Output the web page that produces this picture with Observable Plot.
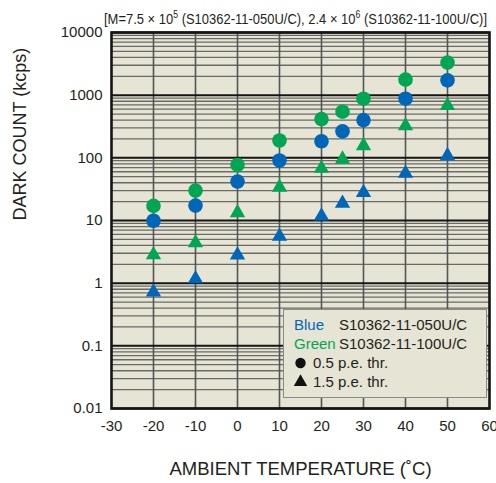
<!DOCTYPE html>
<html>
<head>
<meta charset="utf-8">
<script src="https://cdn.jsdelivr.net/npm/d3@7"></script>
<script src="https://cdn.jsdelivr.net/npm/@observablehq/plot@0.6"></script>
<style>
  html, body { margin: 0; padding: 0; background: #fff; }
  #chart { width: 496px; height: 483px; }
</style>
</head>
<body>
<div id="chart"></div>
<script>
// ---- data ----
const temps = [-20, -10, 0, 10, 20, 25, 30, 40, 50];
const blue050_05 = [9.9, 17.3, 41.8, 90.6, 184, 264, 400, 879, 1725];   // S10362-11-050U/C, 0.5 p.e.
const blue050_15 = [0.72, 1.17, 2.8, 5.6, 11.8, 18.8, 27.8, 56.7, 108]; // S10362-11-050U/C, 1.5 p.e.
const green100_05 = [17.1, 30, 77, 189, 415, 545, 879, 1770, 3311];     // S10362-11-100U/C, 0.5 p.e.
const green100_15 = [2.84, 4.4, 13.3, 34, 68, 95, 156, 325, 682];       // S10362-11-100U/C, 1.5 p.e.

const xTicks = [-30, -20, -10, 0, 10, 20, 30, 40, 50, 60];
const yTicks = [0.01, 0.1, 1, 10, 100, 1000, 10000];
const minorMult = [2, 3, 4, 5, 6, 7, 8, 9];

const title = ["[M=7.5 × 10", "5", " (S10362-11-050U/C), 2.4 × 10", "6", " (S10362-11-100U/C)]"];
const xLabel = "AMBIENT TEMPERATURE (˚C)";
const yLabel = "DARK COUNT (kcps)";
const legendRows = [
  {key: "Blue", name: "S10362-11-050U/C"},
  {key: "Green", name: "S10362-11-100U/C"}
];
const legendSymbols = [
  {symbol: "circle", label: "0.5 p.e. thr."},
  {symbol: "triangle", label: "1.5 p.e. thr."}
];

// ---- styles ----
const BLUE = "#0066b8";
const GREEN = "#00a651";
const BG = "#e6e4d4";
const INK = "#231f20";
const FONT = "'Liberation Sans', Arial, Helvetica, sans-serif";

const minorTicks = yTicks.slice(0, -1).flatMap(d => minorMult.map(m => +(d * m).toPrecision(3)));
const innerX = xTicks.slice(1, -1);

const chart = Plot.plot({
  width: 496,
  height: 483,
  marginLeft: 111,
  marginRight: 7,
  marginTop: 32,
  marginBottom: 75,
  style: {background: "#fff", fontFamily: FONT, fontSize: "15px", color: INK, overflow: "hidden"},
  x: {domain: [-30, 60], ticks: xTicks, tickFormat: d => String(d), tickSize: 0, tickPadding: 12, label: null},
  y: {type: "log", domain: [0.01, 10000], ticks: yTicks, tickFormat: d => String(d), tickSize: 0, tickPadding: 9, label: null},
  marks: [
    Plot.frame({fill: BG}),
    Plot.ruleY(minorTicks, {stroke: "#6a6a66", strokeWidth: 1.3}),
    Plot.ruleX(innerX, {stroke: "#555", strokeWidth: 1.6}),
    Plot.ruleY(yTicks, {stroke: "#151515", strokeWidth: 2}),
    Plot.frame({stroke: "#151515", strokeWidth: 2.6}),
    Plot.dot(temps, {x: temps, y: blue050_15, symbol: "triangle", r: 5.7, fill: BLUE}),
    Plot.dot(temps, {x: temps, y: green100_15, symbol: "triangle", r: 5.7, fill: GREEN}),
    Plot.dot(temps, {x: temps, y: green100_05, symbol: "circle", r: 7.3, fill: GREEN}),
    Plot.dot(temps, {x: temps, y: blue050_05, symbol: "circle", r: 7.3, fill: BLUE}),
    Plot.text([xLabel], {frameAnchor: "bottom", dy: 66, fontSize: 18.5, fill: INK}),
    Plot.text([yLabel], {frameAnchor: "left", dx: -91, rotate: -90, fontSize: 18, fill: INK})
  ]
});

document.getElementById("chart").appendChild(chart);

// ---- title with superscripts ----
const svg = d3.select(chart);
const t = svg.append("text")
  .attr("x", 104).attr("y", 24)
  .attr("text-anchor", "start")
  .attr("fill", INK)
  .attr("font-family", "'Liberation Sans Narrow', 'Liberation Sans', Arial, sans-serif")
  .attr("font-size", 15)
  .attr("textLength", 383)
  .attr("lengthAdjust", "spacingAndGlyphs");
t.append("tspan").text(title[0]);
t.append("tspan").attr("dy", -6).attr("font-size", 10).text(title[1]);
t.append("tspan").attr("dy", 6).text(title[2]);
t.append("tspan").attr("dy", -6).attr("font-size", 10).text(title[3]);
t.append("tspan").attr("dy", 6).text(title[4]);

// ---- legend box ----
const lg = svg.append("g").attr("font-family", FONT).attr("font-size", 15).attr("fill", INK).attr("text-anchor", "start");
lg.append("rect").attr("x", 283.5).attr("y", 309.5).attr("width", 203).attr("height", 88)
  .attr("fill", BG).attr("stroke", "#8a8a86").attr("stroke-width", 1);
const keyColors = [BLUE, GREEN];
legendRows.forEach((r, i) => {
  lg.append("text").attr("x", 294).attr("y", 330 + i * 19).attr("fill", keyColors[i]).text(r.key);
  lg.append("text").attr("x", 339).attr("y", 330 + i * 19).text(r.name);
});
legendSymbols.forEach((s, i) => {
  const cy = 363 + i * 19;
  const sym = s.symbol === "circle" ? d3.symbolCircle : d3.symbolTriangle;
  const size = s.symbol === "circle" ? Math.PI * 5.2 * 5.2 : Math.PI * 5 * 5;
  lg.append("path").attr("d", d3.symbol(sym, size)()).attr("transform", `translate(300.5,${cy})`).attr("fill", "#111");
  lg.append("text").attr("x", 313).attr("y", cy + 5).text(s.label);
});
</script>
</body>
</html>
